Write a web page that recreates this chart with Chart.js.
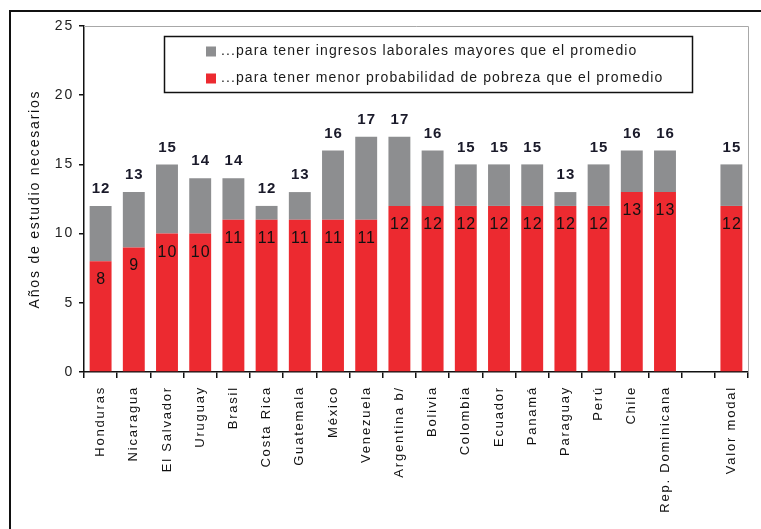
<!DOCTYPE html>
<html>
<head>
<meta charset="utf-8">
<script src="https://cdn.jsdelivr.net/npm/chart.js@4.4.1/dist/chart.umd.min.js"></script>
<style>
  html, body { margin: 0; padding: 0; background: #ffffff; }
  #wrap { width: 761px; height: 529px; position: relative; }
</style>
</head>
<body>
<div id="wrap"><canvas id="chart" width="761" height="529"></canvas></div>
<script>
// Países (el hueco antes de "Valor modal" es una categoría vacía)
const paises = [
  'Honduras', 'Nicaragua', 'El Salvador', 'Uruguay', 'Brasil', 'Costa Rica',
  'Guatemala', 'México', 'Venezuela', 'Argentina b/', 'Bolivia', 'Colombia',
  'Ecuador', 'Panamá', 'Paraguay', 'Perú', 'Chile', 'Rep. Dominicana', '', 'Valor modal'
];
// Años para tener menor probabilidad de pobreza que el promedio
const aniosPobreza = [8, 9, 10, 10, 11, 11, 11, 11, 11, 12, 12, 12, 12, 12, 12, 12, 13, 13, null, 12];
// Años para tener ingresos laborales mayores que el promedio
const aniosIngresos = [12, 13, 15, 14, 14, 12, 13, 16, 17, 17, 16, 15, 15, 15, 13, 15, 16, 16, null, 15];
const ticksY = [0, 5, 10, 15, 20, 25];

const etiquetaIngresos = '...para tener ingresos laborales mayores que el promedio';
const etiquetaPobreza = '...para tener menor probabilidad de pobreza que el promedio';

const ROJO = '#ec2a30';
const GRIS = '#8d8e90';
const FUENTE = '"Liberation Sans", Arial, sans-serif';

// Tramo gris: años adicionales sobre el umbral de pobreza
const tramoGris = aniosIngresos.map((t, i) => (t == null ? null : t - aniosPobreza[i]));

// Marco exterior, bordes del área de trazado, leyenda y rótulos de valores
const adornos = {
  id: 'adornos',
  beforeDraw(chart) {
    // texto de ejes algo espaciado
    chart.ctx.letterSpacing = '1.8px';
  },
  beforeDatasetsDraw(chart) {
    const { ctx, chartArea: a } = chart;
    ctx.letterSpacing = '0px';
    ctx.save();
    ctx.strokeStyle = '#a8a8a8';
    ctx.lineWidth = 1;
    ctx.beginPath();
    ctx.moveTo(a.left, Math.round(a.top) + 0.5);
    ctx.lineTo(Math.round(a.right) + 0.5, Math.round(a.top) + 0.5);
    ctx.lineTo(Math.round(a.right) + 0.5, a.bottom);
    ctx.stroke();
    ctx.restore();
  },
  afterDatasetsDraw(chart) {
    const { ctx } = chart;
    const rojo = chart.getDatasetMeta(0);
    const gris = chart.getDatasetMeta(1);
    ctx.save();
    ctx.textAlign = 'center';
    ctx.textBaseline = 'middle';
    ctx.letterSpacing = '1px';
    aniosPobreza.forEach((v, i) => {
      if (v == null) return;
      const b = rojo.data[i];
      ctx.font = '16px ' + FUENTE;
      ctx.fillStyle = '#111111';
      ctx.fillText(String(v), b.x + 0.5, b.y + 18.5);
    });
    aniosIngresos.forEach((v, i) => {
      if (v == null) return;
      const b = gris.data[i];
      ctx.font = 'bold 15px ' + FUENTE;
      ctx.fillStyle = '#1a1a2a';
      ctx.fillText(String(v), b.x + 0.5, b.y - 17);
    });
    ctx.restore();
  },
  afterDraw(chart) {
    const { ctx } = chart;
    ctx.save();
    // marco exterior
    ctx.strokeStyle = '#111111';
    ctx.lineWidth = 2;
    ctx.strokeRect(10, 11, 820, 600);
    // leyenda
    ctx.lineWidth = 1.5;
    ctx.strokeStyle = '#111111';
    ctx.fillStyle = '#ffffff';
    ctx.fillRect(164, 36, 528, 56);
    ctx.strokeRect(164.5, 36.5, 528, 56);
    const filas = [
      { texto: chart.data.datasets[1].label, color: chart.data.datasets[1].backgroundColor, y: 51.5 },
      { texto: chart.data.datasets[0].label, color: chart.data.datasets[0].backgroundColor, y: 78.5 }
    ];
    ctx.textAlign = 'left';
    ctx.textBaseline = 'middle';
    ctx.font = '14px ' + FUENTE;
    ctx.letterSpacing = '1.1px';
    filas.forEach(f => {
      ctx.fillStyle = f.color;
      ctx.fillRect(206, f.y - 5, 10, 10);
      ctx.fillStyle = '#1a1a1a';
      ctx.fillText(f.texto, 221, f.y);
    });
    ctx.restore();
  }
};

new Chart(document.getElementById('chart'), {
  type: 'bar',
  data: {
    labels: paises,
    datasets: [
      { label: etiquetaPobreza, data: aniosPobreza, backgroundColor: ROJO, stack: 's' },
      { label: etiquetaIngresos, data: tramoGris, backgroundColor: GRIS, stack: 's' }
    ]
  },
  options: {
    responsive: false,
    animation: false,
    devicePixelRatio: 1,
    layout: { padding: { left: 0, top: 26, right: 13, bottom: 0 } },
    datasets: { bar: { barPercentage: 0.66, categoryPercentage: 1 } },
    plugins: { legend: { display: false }, tooltip: { enabled: false } },
    scales: {
      x: {
        stacked: true,
        afterFit(s) { s.height = 529 - 372; },
        grid: { offset: true, drawOnChartArea: false, tickLength: 6, tickColor: '#111111', lineWidth: 1.5 },
        border: { color: '#111111', width: 1.5 },
        ticks: {
          autoSkip: false, maxRotation: 90, minRotation: 90, padding: 8,
          color: '#111111', font: { family: FUENTE, size: 13 }
        }
      },
      y: {
        stacked: true,
        min: 0, max: 25,
        afterFit(s) { s.width = 84; },
        afterBuildTicks(s) { s.ticks = ticksY.map(v => ({ value: v })); },
        grid: { drawOnChartArea: false, tickLength: 5, tickColor: '#111111', lineWidth: 1.5 },
        border: { color: '#111111', width: 1.5 },
        ticks: { padding: 5, color: '#222222', font: { family: FUENTE, size: 14 } },
        title: {
          display: true, text: 'Años de estudio necesarios', color: '#111111',
          font: { family: FUENTE, size: 14 }, padding: { top: 27, bottom: 0 }
        }
      }
    }
  },
  plugins: [adornos]
});
</script>
</body>
</html>
